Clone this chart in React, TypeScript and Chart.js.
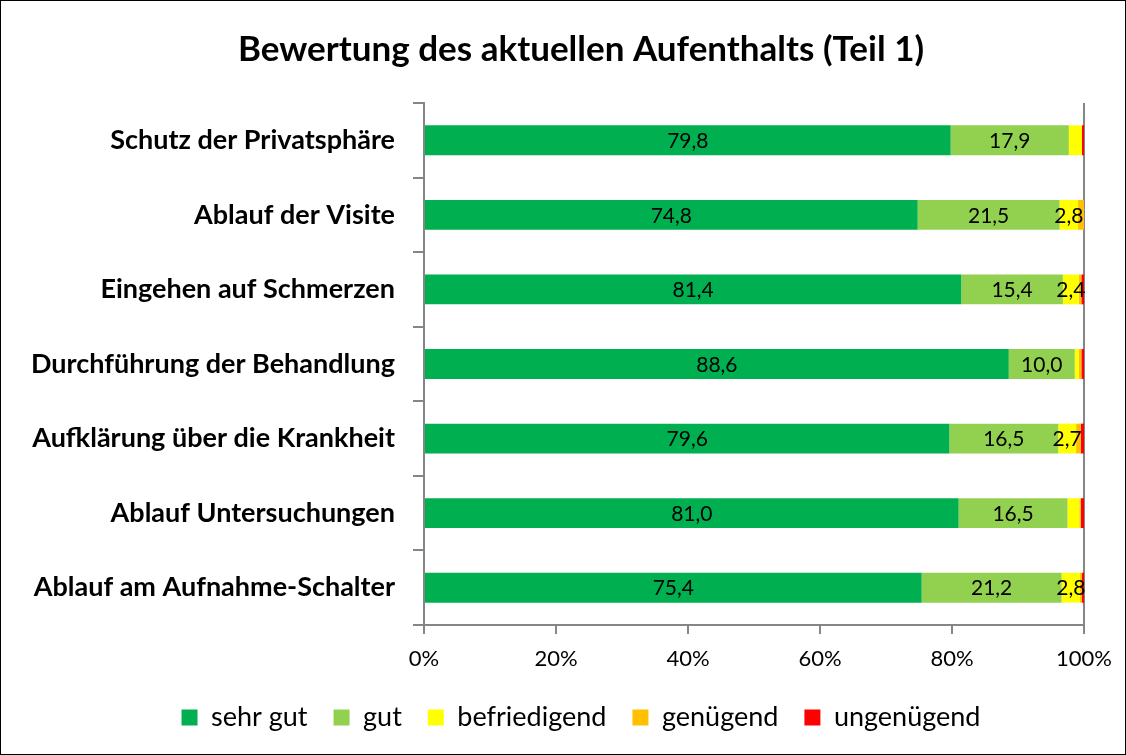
import React, { useEffect, useRef } from "react";
import { Chart, registerables } from "chart.js";

Chart.register(...registerables);

const categories = [
  "Schutz der Privatsphäre",
  "Ablauf der Visite",
  "Eingehen auf Schmerzen",
  "Durchführung der Behandlung",
  "Aufklärung über die Krankheit",
  "Ablauf Untersuchungen",
  "Ablauf am Aufnahme-Schalter",
];
const sehrGut = [79.8, 74.8, 81.4, 88.6, 79.6, 81.0, 75.4];
const gut = [17.9, 21.5, 15.4, 10.0, 16.5, 16.5, 21.2];
const befriedigend = [2.0, 2.8, 2.4, 0.6, 2.7, 1.8, 2.8];
const genuegend = [0.0, 0.9, 0.4, 0.4, 0.7, 0.2, 0.3];
const ungenuegend = [0.3, 0.0, 0.4, 0.4, 0.5, 0.5, 0.3];
const xTicks = [0, 20, 40, 60, 80, 100];

const FONT = "Lato, 'Noto Sans', sans-serif";
const AXIS = "#868686";

const labelPlugin = {
  id: "segLabels",
  afterDatasetsDraw(chart: any) {
    const ctx = chart.ctx;
    ctx.save();
    ctx.font = `21px ${FONT}`;
    ctx.fillStyle = "#000";
    ctx.textAlign = "center";
    ctx.textBaseline = "middle";
    chart.data.datasets.forEach((ds: any, di: number) => {
      const meta = chart.getDatasetMeta(di);
      meta.data.forEach((el: any, i: number) => {
        const v = ds.data[i];
        if (v < 2.3) return;
        const p = el.getProps(["x", "y", "base"], true);
        const cx = (p.x + p.base) / 2;
        ctx.fillText(v.toFixed(1).replace(".", ","), cx, p.y + 1);
      });
    });
    ctx.restore();
  },
};

export default function App() {
  const ref = useRef<HTMLCanvasElement>(null);
  useEffect(() => {
    if (!ref.current) return;
    const mk = (label: string, data: number[], color: string) => ({
      label,
      data,
      backgroundColor: color,
      borderWidth: 0,
      categoryPercentage: 1,
      barPercentage: 0.4,
    });
    const chart = new Chart(ref.current, {
      type: "bar",
      data: {
        labels: categories,
        datasets: [
          mk("sehr gut", sehrGut, "#00B050"),
          mk("gut", gut, "#92D050"),
          mk("befriedigend", befriedigend, "#FFFF00"),
          mk("genügend", genuegend, "#FFC000"),
          mk("ungenügend", ungenuegend, "#FF0000"),
        ],
      },
      options: {
        indexAxis: "y",
        animation: false,
        responsive: false,
        layout: { padding: { left: 0, right: 0, top: 0, bottom: 14 } },
        plugins: {
          tooltip: { enabled: false },
          title: {
            display: true,
            text: "Bewertung des aktuellen Aufenthalts (Teil 1)",
            color: "#000",
            font: { family: FONT, size: 35, weight: "bold" },
            padding: { top: 29, bottom: 32 },
          },
          legend: {
            position: "bottom",
            labels: {
              color: "#000",
              font: { family: FONT, size: 27 },
              boxWidth: 16,
              boxHeight: 16,
              padding: 26,
            },
          },
        },
        scales: {
          x: {
            stacked: true,
            min: 0,
            max: 100,
            afterBuildTicks: (s: any) => {
              s.ticks = xTicks.map((v) => ({ value: v }));
            },
            afterFit: (s: any) => {
              s.height = 53;
            },
            ticks: {
              color: "#000",
              font: { family: FONT, size: 22 },
              padding: 12,
              callback: (v: any) => `${v}%`,
            },
            grid: {
              color: (c: any) => (c.tick && c.tick.value === 100 ? AXIS : "rgba(0,0,0,0)"),
              tickColor: AXIS,
              tickLength: 9,
              lineWidth: 2,
            },
            border: { color: AXIS, width: 2 },
          },
          y: {
            stacked: true,
            afterFit: (s: any) => {
              s.width = 460;
            },
            ticks: {
              color: "#000",
              font: { family: FONT, size: 27, weight: "bold" },
              padding: 18,
            },
            grid: {
              drawOnChartArea: false,
              drawTicks: true,
              tickLength: 11,
              color: AXIS,
              lineWidth: 2,
              offset: true,
            },
            border: { color: AXIS, width: 2 },
          },
          r2: {
            type: "linear",
            axis: "y",
            position: "right",
            display: true,
            afterFit: (s: any) => {
              s.width = 114;
            },
            ticks: { display: false },
            grid: { display: false, drawTicks: false },
            border: { display: false },
          },
        },
      } as any,
      plugins: [labelPlugin],
    });
    return () => chart.destroy();
  }, []);
  return (
    <div
      style={{
        position: "fixed",
        left: 0,
        top: 0,
        width: 1126,
        height: 755,
        background: "#fff",
        overflow: "hidden",
      }}
    >
      <canvas
        ref={ref}
        width={1234}
        height={755}
        style={{ display: "block", position: "absolute", left: -36, top: 0 }}
      />
      <div
        style={{
          position: "absolute",
          left: 0,
          top: 0,
          width: 1126,
          height: 755,
          boxSizing: "border-box",
          border: "1px solid #000",
          pointerEvents: "none",
        }}
      />
    </div>
  );
}
